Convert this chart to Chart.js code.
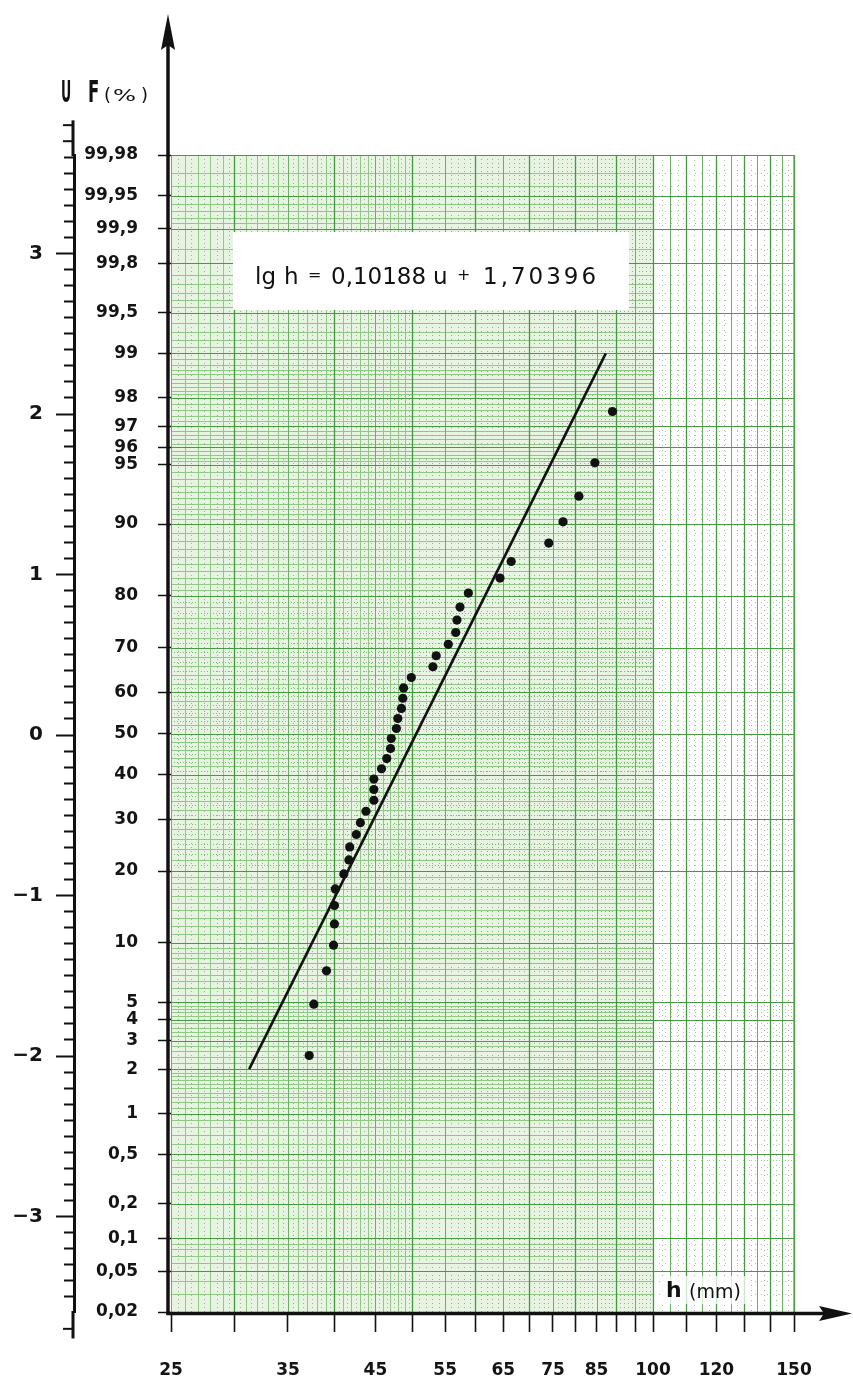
<!DOCTYPE html>
<html>
<head>
<meta charset="utf-8">
<script src="https://cdn.jsdelivr.net/npm/chart.js@4.4.1/dist/chart.umd.min.js"></script>
<style>
  html, body { margin: 0; padding: 0; background: #fff; }
  #wrap { width: 853px; height: 1377px; position: relative; }
</style>
</head>
<body>
<div id="wrap"><canvas id="chartPapel"></canvas></div>
<script>
const alturas = [37.2, 37.7, 39.1, 39.9, 40.0, 40.0, 40.1, 41.1, 41.7, 41.8,
                 42.6, 43.1, 43.8, 44.8, 44.8, 44.8, 45.8, 46.5, 47.0, 47.1,
                 47.8, 48.0, 48.5, 48.7, 48.8, 49.9, 53.1, 53.6, 55.5, 56.7,
                 56.9, 57.4, 58.8, 64.4, 66.5, 74.1, 77.2, 80.8, 84.6, 89.0];
const frequencias = [2.44, 4.88, 7.32, 9.76, 12.20, 14.63, 17.07, 19.51, 21.95, 24.39,
                     26.83, 29.27, 31.71, 34.15, 36.59, 39.02, 41.46, 43.90, 46.34, 48.78,
                     51.22, 53.66, 56.10, 58.54, 60.98, 63.41, 65.85, 68.29, 70.73, 73.17,
                     75.61, 78.05, 80.49, 82.93, 85.37, 87.80, 90.24, 92.68, 95.12, 97.56];

// reta ajustada: extremos lidos no papel
const retaH = [31.3, 87.3];
const retaF = [2, 99];

const ticksF = [0.02, 0.05, 0.1, 0.2, 0.5, 1, 2, 3, 4, 5, 10, 20, 30, 40, 50, 60, 70, 80, 90, 95, 96, 97, 98, 99, 99.5, 99.8, 99.9, 99.95, 99.98];
const rotulosF = ['0,02', '0,05', '0,1', '0,2', '0,5', '1', '2', '3', '4', '5', '10', '20', '30', '40', '50', '60', '70', '80', '90', '95', '96', '97', '98', '99', '99,5', '99,8', '99,9', '99,95', '99,98'];
const ticksH = [25, 30, 35, 40, 45, 50, 55, 60, 65, 70, 75, 80, 85, 90, 95, 100, 110, 120, 130, 140, 150];
const rotulosH = ['25', '35', '45', '55', '65', '75', '85', '100', '120', '150'];
const ticksU = [-3, -2, -1, 0, 1, 2, 3];
const equacao = ['lg', 'h', '=', '0,10188', 'u', '+', '1,70396'];

// inversa da normal (Acklam)
function probit(p) {
    const a = [-3.969683028665376e+01, 2.209460984245205e+02, -2.759285104469687e+02, 1.383577518672690e+02, -3.066479806614716e+01, 2.506628277459239e+00];
    const b = [-5.447609879822406e+01, 1.615858368580409e+02, -1.556989798598866e+02, 6.680131188771972e+01, -1.328068155288572e+01];
    const c = [-7.784894002430293e-03, -3.223964580411365e-01, -2.400758277161838e+00, -2.549732539343734e+00, 4.374664141464968e+00, 2.938163982698783e+00];
    const d = [7.784695709041462e-03, 3.224671290700398e-01, 2.445134137142996e+00, 3.754408661907416e+00];
    const plow = 0.02425;
    let q, r;
    if (p < plow) {
        q = Math.sqrt(-2 * Math.log(p));
        return (((((c[0] * q + c[1]) * q + c[2]) * q + c[3]) * q + c[4]) * q + c[5]) / ((((d[0] * q + d[1]) * q + d[2]) * q + d[3]) * q + 1);
    }
    if (p > 1 - plow) {
        q = Math.sqrt(-2 * Math.log(1 - p));
        return -(((((c[0] * q + c[1]) * q + c[2]) * q + c[3]) * q + c[4]) * q + c[5]) / ((((d[0] * q + d[1]) * q + d[2]) * q + d[3]) * q + 1);
    }
    q = p - 0.5; r = q * q;
    return (((((a[0] * r + a[1]) * r + a[2]) * r + a[3]) * r + a[4]) * r + a[5]) * q / (((((b[0] * r + b[1]) * r + b[2]) * r + b[3]) * r + b[4]) * r + 1);
}

function faixa(ini, fim, passo) {
    const r = [];
    for (let v = ini; v <= fim + 1e-9; v += passo) r.push(+v.toFixed(4));
    return r;
}

// linhas finas do papel (grade, nao dados)
const fSecundarias = [].concat(
    faixa(0.02, 0.1, 0.01), faixa(0.1, 0.5, 0.05), faixa(0.5, 2, 0.1), faixa(2, 5, 0.2),
    faixa(5, 10, 0.5), faixa(10, 90, 1), faixa(90, 95, 0.5), faixa(95, 98, 0.2),
    faixa(98, 99.5, 0.1), faixa(99.5, 99.9, 0.05), faixa(99.9, 99.98, 0.01)
);

const FONTE = '"DejaVu Sans", sans-serif';
Chart.defaults.font.family = FONTE;
Chart.defaults.color = '#141414';

const uMin = probit(0.0002);
const uMax = probit(0.9998);

const pontos = alturas.map((h, i) => ({ x: h, y: probit(frequencias[i] / 100) }));
const reta = retaH.map((h, i) => ({ x: h, y: probit(retaF[i] / 100) }));

function hLinha(ctx, x1, x2, y) { ctx.beginPath(); ctx.moveTo(x1, y); ctx.lineTo(x2, y); ctx.stroke(); }
function vLinha(ctx, x, y1, y2) { ctx.beginPath(); ctx.moveTo(x, y1); ctx.lineTo(x, y2); ctx.stroke(); }

const papel = {
    id: 'papel',
    beforeDatasetsDraw(chart) {
        const { ctx, chartArea: a, scales: { x, y } } = chart;
        const x100 = x.getPixelForValue(100);
        const py = f => Math.round(y.getPixelForValue(probit(f / 100))) + 0.5;
        const px = h => Math.round(x.getPixelForValue(h)) + 0.5;
        ctx.save();
        ctx.fillStyle = '#e7f4e1';
        ctx.fillRect(a.left, a.top, x100 - a.left, a.bottom - a.top);

        // horizontais finas
        ctx.lineWidth = 1;
        fSecundarias.forEach(f => {
            const yy = py(f);
            const pont = f > 20 && f < 80 && Math.round(f) % 2 === 1;
            ctx.strokeStyle = pont ? '#7dbd73' : '#8fc985';
            ctx.setLineDash(pont ? [1, 2] : []);
            hLinha(ctx, a.left, x100, yy);
            ctx.strokeStyle = '#9fcf96';
            ctx.setLineDash([1, 5]);
            hLinha(ctx, x100, a.right, yy);
        });

        // verticais finas
        faixa(25, 50, 1).forEach(h => {
            if (h % 5 === 0) return;
            ctx.setLineDash([]);
            ctx.strokeStyle = '#8fc985';
            vLinha(ctx, px(h), a.top, a.bottom);
        });
        faixa(25.5, 49.5, 1).forEach(h => {
            ctx.setLineDash([1, 3]);
            ctx.strokeStyle = '#86c27c';
            vLinha(ctx, px(h), a.top, a.bottom);
        });
        faixa(51, 99, 1).forEach(h => {
            if (h % 5 === 0) return;
            ctx.setLineDash([1, 3]);
            ctx.strokeStyle = '#7fbe75';
            vLinha(ctx, px(h), a.top, a.bottom);
        });
        faixa(102.5, 147.5, 5).forEach(h => {
            ctx.setLineDash([1, 4]);
            ctx.strokeStyle = '#94c98b';
            vLinha(ctx, px(h), a.top, a.bottom);
        });

        // verticais de 5 e 10 mm
        ctx.setLineDash([]);
        faixa(25, 150, 5).forEach(h => {
            const dez = h % 10 === 0;
            ctx.strokeStyle = dez ? '#449940' : '#68b160';
            ctx.lineWidth = dez ? 1.3 : 1;
            vLinha(ctx, px(h), a.top, a.bottom);
        });

        // horizontais principais
        ctx.strokeStyle = '#489a42';
        ctx.lineWidth = 1.2;
        ticksF.forEach(f => hLinha(ctx, a.left, a.right, py(f)));

        ctx.strokeStyle = '#5aa853';
        ctx.lineWidth = 1.3;
        vLinha(ctx, a.right, a.top, a.bottom);

        // caixa da equacao
        ctx.fillStyle = '#ffffff';
        ctx.fillRect(233, 232, 396, 78);
        ctx.fillStyle = '#111';
        ctx.textBaseline = 'alphabetic';
        const posicoes = [255, 284, 308, 331, 433, 457, 483];
        equacao.forEach((t, i) => {
            const sinal = t === '=' || t === '+';
            ctx.font = sinal ? '16px ' + FONTE : '23px ' + FONTE;
            ctx.letterSpacing = i === 6 ? '3px' : '0px';
            ctx.fillText(t, posicoes[i], sinal ? 280 : 284);
        });
        ctx.letterSpacing = '0px';

        // rotulo h (mm)
        ctx.fillStyle = 'rgba(255,255,255,0.75)';
        ctx.fillRect(662, 1276, 88, 28);
        ctx.fillStyle = '#111';
        ctx.font = 'bold 22px ' + FONTE;
        ctx.fillText('h', 666, 1297);
        ctx.font = '19px ' + FONTE;
        ctx.fillText('(mm)', 689, 1298);
        ctx.restore();
    },
    afterDraw(chart) {
        const { ctx, chartArea: a, scales: { yu } } = chart;
        ctx.save();
        ctx.fillStyle = '#111';
        ctx.strokeStyle = '#111';

        // eixo U prolongado
        const xu = yu.right - 1;
        ctx.lineWidth = 3;
        vLinha(ctx, xu, yu.getPixelForValue(3.83), a.top + 1);
        vLinha(ctx, xu, a.bottom - 1, yu.getPixelForValue(-3.76));
        ctx.lineWidth = 2;
        [3.7, 3.8, -3.7].forEach(u => hLinha(ctx, xu - 10, xu, yu.getPixelForValue(u)));

        // eixo vertical com seta
        const ex = a.left - 3;
        const ey = a.bottom + 1.5;
        ctx.lineWidth = 3.5;
        vLinha(ctx, ex, ey + 1.5, 44);
        ctx.beginPath();
        ctx.moveTo(ex, 14); ctx.lineTo(ex + 7, 50); ctx.lineTo(ex, 45); ctx.lineTo(ex - 7, 50);
        ctx.closePath(); ctx.fill();

        // eixo horizontal com seta
        hLinha(ctx, ex - 1.5, 826, ey);
        ctx.beginPath();
        ctx.moveTo(852, ey); ctx.lineTo(819, ey - 7.5); ctx.lineTo(824, ey); ctx.lineTo(819, ey + 7.5);
        ctx.closePath(); ctx.fill();

        // titulos dos eixos verticais
        ctx.textBaseline = 'alphabetic';
        ctx.font = 'bold 30px ' + FONTE;
        ctx.save(); ctx.translate(61, 102); ctx.scale(0.42, 1); ctx.fillText('U', 0, 0); ctx.restore();
        ctx.save(); ctx.translate(88, 102); ctx.scale(0.55, 1); ctx.fillText('F', 0, 0); ctx.restore();
        ctx.font = '18px ' + FONTE;
        ctx.fillText('(', 104, 101);
        ctx.save(); ctx.translate(113, 101); ctx.scale(1.35, 0.85); ctx.fillText('%', 0, 0); ctx.restore();
        ctx.fillText(')', 141, 101);
        ctx.restore();
    }
};

const ctx = document.getElementById('chartPapel');

new Chart(ctx, {
    type: 'scatter',
    data: {
        datasets: [{
            label: 'reta',
            data: reta,
            showLine: true,
            borderColor: '#111',
            borderWidth: 2.6,
            pointRadius: 0,
            fill: false
        }, {
            label: 'observacoes',
            data: pontos,
            backgroundColor: '#111',
            borderWidth: 0,
            pointRadius: 4.6
        }]
    },
    options: {
        responsive: true,
        maintainAspectRatio: false,
        animation: false,
        layout: { padding: { top: 155, right: 59, left: 0, bottom: 0 } },
        plugins: {
            legend: { display: false },
            tooltip: { enabled: false }
        },
        scales: {
            x: {
                type: 'logarithmic',
                min: 25,
                max: 150,
                bounds: 'data',
                afterBuildTicks: s => { s.ticks = ticksH.map(v => ({ value: v })); },
                afterFit: s => { s.height = 65; },
                ticks: {
                    autoSkip: false,
                    maxRotation: 0,
                    padding: 28,
                    color: '#141414',
                    font: { size: 17, weight: 'bold' },
                    callback: v => rotulosH.includes(String(v)) ? String(v) : ''
                },
                grid: { drawOnChartArea: false, tickLength: 20, tickColor: '#111', tickWidth: 1.6 },
                border: { display: false }
            },
            y: {
                type: 'linear',
                position: 'left',
                weight: 0,
                min: uMin,
                max: uMax,
                bounds: 'data',
                afterBuildTicks: s => { s.ticks = ticksF.map(f => ({ value: probit(f / 100) })); },
                afterFit: s => { s.width = 97; },
                ticks: {
                    autoSkip: false,
                    padding: 20,
                    color: '#141414',
                    font: { size: 17, weight: 'bold' },
                    callback: (v, i) => rotulosF[i]
                },
                grid: { drawOnChartArea: false, tickLength: 13, tickColor: '#111', tickWidth: 1.5 },
                border: { display: false }
            },
            yu: {
                type: 'linear',
                position: 'left',
                weight: 1,
                min: -3.595,
                max: 3.614,
                bounds: 'data',
                afterBuildTicks: s => { s.ticks = faixa(-3.5, 3.6, 0.1).map(v => ({ value: v })); },
                afterFit: s => { s.width = 74; },
                ticks: {
                    autoSkip: false,
                    padding: 13,
                    color: '#141414',
                    font: { size: 20, weight: 'bold' },
                    callback: v => {
                        const n = Math.round(v);
                        if (Math.abs(v - n) > 1e-6 || !ticksU.includes(n)) return '';
                        return n < 0 ? '\u2212' + Math.abs(n) : String(n);
                    }
                },
                grid: {
                    drawOnChartArea: false,
                    tickLength: 18,
                    tickColor: '#111',
                    tickWidth: 2,
                    tickBorderDash: c => Math.abs(c.tick.value - Math.round(c.tick.value)) < 1e-6 ? [] : [0, 8, 10, 0]
                },
                border: { display: true, color: '#111', width: 3 }
            }
        }
    },
    plugins: [papel]
});
</script>
</body>
</html>
